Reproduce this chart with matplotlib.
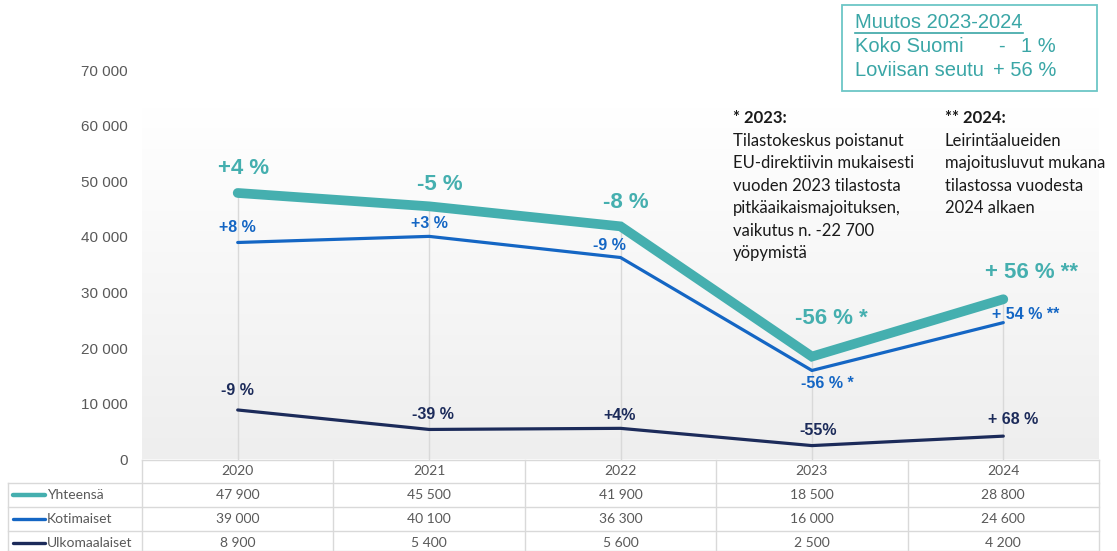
"""Yöpymiset Loviisan seudulla 2020-2024: viivakaavio ja taulukko."""

import numpy as np
import matplotlib
matplotlib.use("Agg")
import matplotlib.pyplot as plt
from matplotlib.colors import LinearSegmentedColormap
from matplotlib.lines import Line2D
from matplotlib.patches import Rectangle
from matplotlib.transforms import blended_transform_factory

# --- data -------------------------------------------------------------
years = ["2020", "2021", "2022", "2023", "2024"]
series_names = ["Yhteensä", "Kotimaiset", "Ulkomaalaiset"]
yhteensa = [47900, 45500, 41900, 18500, 28800]
kotimaiset = [39000, 40100, 36300, 16000, 24600]
ulkomaalaiset = [8900, 5400, 5600, 2500, 4200]

yht_change = ["+4 %", "-5 %", "-8 %", "-56 % *", "+ 56 % **"]
kot_change = ["+8 %", "+3 %", "-9 %", "-56 % *", "+ 54 % **"]
ulk_change = ["-9 %", "-39 %", "+4%", "-55%", "+ 68 %"]

y_ticks = [0, 10000, 20000, 30000, 40000, 50000, 60000, 70000]

note_2023 = ["Tilastokeskus poistanut", "EU-direktiivin mukaisesti",
             "vuoden 2023 tilastosta", "pitkäaikaismajoituksen,",
             "vaikutus n. -22 700", "yöpymistä"]
note_2024 = ["Leirintäalueiden", "majoitusluvut mukana",
             "tilastossa vuodesta", "2024 alkaen"]

# --- style ------------------------------------------------------------
W, H = 1117, 551
TEAL = "#45afaf"
BLUE = "#1466c4"
NAVY = "#1c2b5a"
GREY_TXT = "#595959"
GRID = "#d9d9d9"
NOTE_FONT = "Lato"
ARIAL = "Liberation Sans"


def fx(px):
    return px / W


def fy(py):
    return 1 - py / H


def fmt(v):
    return f"{v:,}".replace(",", " ")


fig = plt.figure(figsize=(W / 100, H / 100), dpi=100)
ax = fig.add_axes([fx(142), fy(459.5), fx(1099) - fx(142), fy(70) - fy(459.5)])

# plot-area background gradient
cmap = LinearSegmentedColormap.from_list("bg", ["#eeeeee", "#ffffff"])
ax.imshow(np.linspace(0, 1, 256)[:, None], extent=(-0.5, 4.5, 0, 63200),
          origin="lower", aspect="auto", cmap=cmap, zorder=0)

x = np.arange(len(years))
ax.vlines(x, 0, yhteensa, color=GRID, linewidth=1, zorder=1)

ax.plot(x, ulkomaalaiset, color=NAVY, linewidth=2.3, solid_capstyle="round", zorder=3)
ax.plot(x, kotimaiset, color=BLUE, linewidth=2.3, solid_capstyle="round", zorder=3)
ax.plot(x, yhteensa, color=TEAL, linewidth=7, solid_capstyle="round",
        solid_joinstyle="miter", zorder=4)

ax.set_xlim(-0.5, 4.5)
ax.set_ylim(0, 70000)
ax.set_yticks(y_ticks)
ax.set_yticklabels([fmt(v) for v in y_ticks], fontfamily=ARIAL, fontsize=11,
                   color=GREY_TXT)
ax.tick_params(axis="y", length=0, pad=10)
ax.set_xticks([])
for s in ax.spines.values():
    s.set_visible(False)
ax.patch.set_alpha(0)

# change labels (offsets in pixels from the point)
yht_off = [(6, 24), (11, 22), (5, 24), (19, 38), (28, 27)]
kot_off = [(0, 15), (0, 13), (-11, 12), (15, -13), (22, 8)]
ulk_off = [(0, 19), (4, 15), (-1, 13), (6, 15), (10, 17)]

for vals, labels, offs, col, size in [
    (yhteensa, yht_change, yht_off, TEAL, 16),
    (kotimaiset, kot_change, kot_off, BLUE, 11.5),
    (ulkomaalaiset, ulk_change, ulk_off, NAVY, 11.5),
]:
    for i, (v, lab, off) in enumerate(zip(vals, labels, offs)):
        ax.annotate(lab, xy=(i, v), xytext=off, textcoords="offset pixels",
                    ha="center", va="center", color=col, fontsize=size,
                    fontweight="bold", fontfamily=ARIAL, zorder=5)

# --- table under the chart -------------------------------------------
tr = blended_transform_factory(ax.transData, fig.transFigure)
row_lines = [459.5, 483, 507, 531]
row_mid = [471, 495, 519, 543]

fig.add_artist(Line2D([fx(142), fx(1099)], [fy(459.5)] * 2, color=GRID, lw=1))
for py in row_lines[1:] + [551]:
    fig.add_artist(Line2D([fx(8), fx(1099)], [fy(py)] * 2, color=GRID, lw=1))
fig.add_artist(Line2D([fx(8), fx(8)], [fy(483), 0], color=GRID, lw=1))
for b in np.arange(len(years) + 1) - 0.5:
    fig.add_artist(Line2D([b, b], [fy(459.5), 0], color=GRID, lw=1, transform=tr))

for i, yr in enumerate(years):
    fig.text(i, fy(row_mid[0]), yr, transform=tr, ha="center", va="center",
             fontsize=10, fontfamily=NOTE_FONT, color=GREY_TXT)

for r, (name, vals, col, lw) in enumerate(zip(
        series_names, [yhteensa, kotimaiset, ulkomaalaiset],
        [TEAL, BLUE, NAVY], [3.2, 2.4, 2.4])):
    py = row_mid[r + 1]
    fig.add_artist(Line2D([fx(13), fx(45)], [fy(py)] * 2, color=col, lw=lw,
                          solid_capstyle="round"))
    fig.text(fx(47), fy(py), name, ha="left", va="center", fontsize=10,
             fontfamily=NOTE_FONT, color=GREY_TXT)
    for i, v in enumerate(vals):
        fig.text(i, fy(py), fmt(v), transform=tr, ha="center", va="center",
                 fontsize=10, fontfamily=NOTE_FONT, color=GREY_TXT)

# --- notes --------------------------------------------------------------
NOTE_COL = "#1a1a1a"
NOTE_SIZE = 12
fig.text(fx(733), fy(118), "* 2023:", ha="left", va="center", fontsize=NOTE_SIZE,
         fontweight="bold", fontfamily=NOTE_FONT, color=NOTE_COL)
for k, line in enumerate(note_2023):
    fig.text(fx(733), fy(141 + 22.4 * k), line, ha="left", va="center",
             fontsize=NOTE_SIZE, fontfamily=NOTE_FONT, color=NOTE_COL)
fig.text(fx(945), fy(118), "** 2024:", ha="left", va="center", fontsize=NOTE_SIZE,
         fontweight="bold", fontfamily=NOTE_FONT, color=NOTE_COL)
for k, line in enumerate(note_2024):
    fig.text(fx(945), fy(141 + 22.4 * k), line, ha="left", va="center",
             fontsize=NOTE_SIZE, fontfamily=NOTE_FONT, color=NOTE_COL)

# --- change box, top right ----------------------------------------------
BOX_COL = "#3aa6a6"
fig.add_artist(Rectangle((fx(842), fy(91)), fx(1097) - fx(842), fy(5) - fy(91),
                         fill=False, edgecolor="#6cc6c6", linewidth=1.3))
fig.text(fx(855), fy(23), "Muutos 2023-2024", ha="left", va="center",
         fontsize=14.5, fontfamily=ARIAL, color=BOX_COL)
fig.add_artist(Line2D([fx(855), fx(1023)], [fy(33)] * 2, color=BOX_COL, lw=1.2))
fig.text(fx(855), fy(46), "Koko Suomi", ha="left", va="center",
         fontsize=14.5, fontfamily=ARIAL, color=BOX_COL)
fig.text(fx(1001), fy(46), "-", ha="center", va="center",
         fontsize=14.5, fontfamily=ARIAL, color=BOX_COL)
fig.text(fx(1056), fy(46), "1 %", ha="right", va="center",
         fontsize=14.5, fontfamily=ARIAL, color=BOX_COL)
fig.text(fx(855), fy(70), "Loviisan seutu", ha="left", va="center",
         fontsize=14.5, fontfamily=ARIAL, color=BOX_COL)
fig.text(fx(1056), fy(70), "+ 56 %", ha="right", va="center",
         fontsize=14.5, fontfamily=ARIAL, color=BOX_COL)

fig.savefig("out.png", dpi=100, facecolor="white")
